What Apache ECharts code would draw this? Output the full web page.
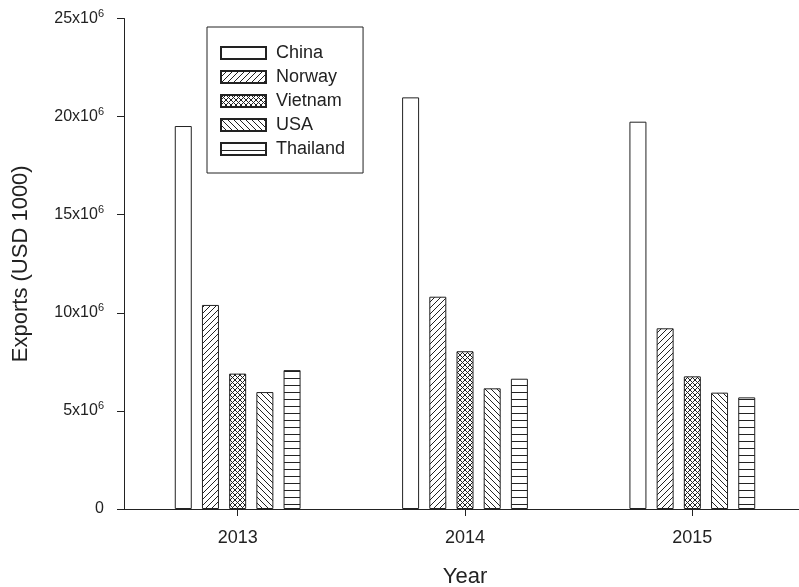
<!DOCTYPE html>
<html>
<head>
<meta charset="utf-8">
<script src="https://cdn.jsdelivr.net/npm/echarts@6/dist/echarts.min.js"></script>
<style>
  html, body { margin: 0; padding: 0; background: #fff; }
  #c { width: 799px; height: 587px; }
</style>
</head>
<body>
<div id="c"></div>
<script>
(() => {
  "use strict";
  const years = ["2013", "2014", "2015"];
  const countries = ["China", "Norway", "Vietnam", "USA", "Thailand"];
  const china = [19.52e6, 20.98e6, 19.74e6];
  const norway = [10.4e6, 10.82e6, 9.21e6];
  const vietnam = [6.9e6, 8.04e6, 6.76e6];
  const usa = [5.96e6, 6.15e6, 5.93e6];
  const thailand = [7.08e6, 6.64e6, 5.69e6];
  const values = [china, norway, vietnam, usa, thailand];

  const INK = "#222";
  const FONT = "Liberation Sans";

  // hatch fills drawn onto small tiles
  function pat(w, h, draw) {
    const c = document.createElement("canvas");
    c.width = w; c.height = h;
    const g = c.getContext("2d");
    g.fillStyle = "#fff"; g.fillRect(0, 0, w, h);
    g.strokeStyle = INK; g.lineWidth = 1;
    g.beginPath(); draw(g, w, h); g.stroke();
    return { image: c, repeat: "repeat" };
  }
  const fwd = (g, s) => { g.moveTo(-1, s + 1); g.lineTo(s + 1, -1); g.moveTo(-1, 1); g.lineTo(1, -1); g.moveTo(s - 1, s + 1); g.lineTo(s + 1, s - 1); };
  const back = (g, s) => { g.moveTo(-1, -1); g.lineTo(s + 1, s + 1); g.moveTo(s - 1, -1); g.lineTo(s + 1, 1); g.moveTo(-1, s - 1); g.lineTo(1, s + 1); };
  const fills = [
    "#fff",
    pat(6, 6, g => fwd(g, 6)),
    pat(5, 5, g => { fwd(g, 5); back(g, 5); }),
    pat(6, 6, g => back(g, 6)),
    pat(8, 7, g => { g.moveTo(0, 0.5); g.lineTo(8, 0.5); }),
  ];

  const chart = echarts.init(document.getElementById("c"), null, { renderer: "canvas" });
  chart.setOption({
    animation: false,
    backgroundColor: "#fff",
    textStyle: { fontFamily: FONT, color: INK },
    grid: { left: 124, right: -7, top: 18.5, bottom: 78, containLabel: false, outerBoundsMode: "none" },
    legend: {
      orient: "vertical", left: 207, top: 27,
      padding: [17, 18, 15, 13],
      borderColor: INK, borderWidth: 1,
      itemWidth: 45, itemHeight: 12, itemGap: 6,
      icon: "rect",
      textStyle: { fontSize: 18, color: INK, fontFamily: FONT, padding: [0, 0, 0, 5] },
      data: countries,
    },
    xAxis: {
      type: "category", data: years,
      name: "Year", nameLocation: "middle", nameGap: 57,
      nameTextStyle: { fontSize: 22, color: INK, fontFamily: FONT },
      axisLine: { show: true, lineStyle: { color: INK, width: 1 } },
      axisTick: { show: true, alignWithLabel: true, length: 7, lineStyle: { color: INK } },
      axisLabel: { fontSize: 18, color: INK, margin: 20, fontFamily: FONT },
      splitLine: { show: false },
    },
    yAxis: {
      type: "value", min: 0, max: 25e6, interval: 5e6,
      name: "Exports (USD 1000)", nameLocation: "middle", nameGap: 92,
      nameTextStyle: { fontSize: 22, color: INK, fontFamily: FONT },
      axisLine: { show: true, lineStyle: { color: INK, width: 1 } },
      axisTick: { show: true, length: 7, lineStyle: { color: INK } },
      splitLine: { show: false },
      axisLabel: {
        margin: 20, color: INK, fontFamily: FONT,
        formatter: v => v === 0 ? "{a|0}" : `{a|${v / 1e6}x10}{s|6}`,
        rich: {
          a: { fontSize: 16, color: INK, fontFamily: FONT },
          s: { fontSize: 11, color: INK, fontFamily: FONT, padding: [0, 0, 9, 0] },
        },
      },
    },
    series: countries.map((name, i) => ({
      name, type: "bar", data: values[i],
      barWidth: 17, barGap: "60%",
      itemStyle: { color: fills[i], borderColor: INK, borderWidth: 1 },
    })),
  });
})();
</script>
</body>
</html>
